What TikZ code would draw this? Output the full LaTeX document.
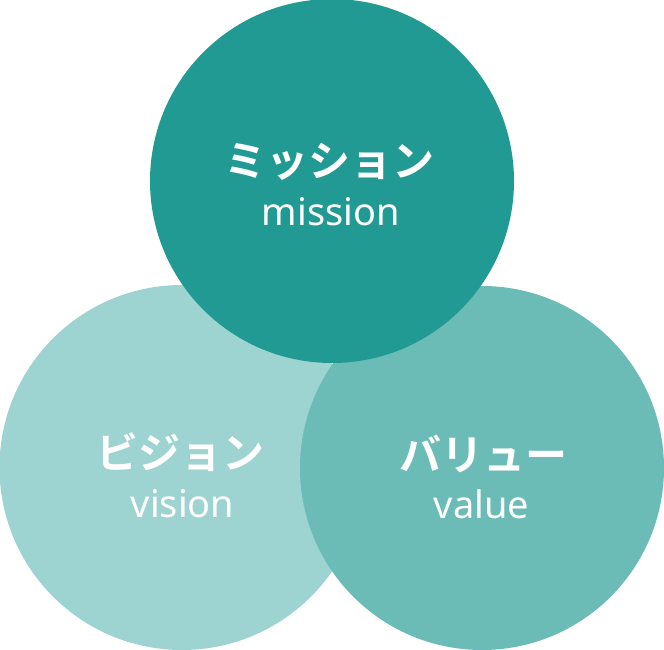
\documentclass[tikz,border=0pt]{standalone}
\usepackage{fontspec}
\setmainfont{Noto Sans}
\newfontfamily\jpfont{Noto Sans CJK JP}[BoldFont={* Bold}]
\definecolor{cTop}{HTML}{219A93}
\definecolor{cLeft}{HTML}{9DD3D0}
\definecolor{cRight}{HTML}{6BBBB6}
\tikzset{
  jp/.style={text=white, font=\jpfont\bfseries\fontsize{42}{42}\selectfont, inner sep=0pt},
  en/.style={text=white, font=\fontsize{38}{38}\selectfont, inner sep=0pt, anchor=base},
}
\begin{document}
\begin{tikzpicture}[x=1pt,y=-1pt]
\useasboundingbox (0,0) rectangle (664,650);
\fill[cLeft] (182,467.5) circle (182.5);
\fill[cRight] (482,468) circle (182);
\fill[cTop] (332,181) circle (182);
\node[jp] (mj) at (329.5,162) {ミッション};
\node[en] (me) at (331,225) {mission};
\node[jp] (vj) at (180,452) {ビジョン};
\node[en] (ve) at (182.5,517) {vision};
\node[jp] (rj) at (483.5,454) {バリュー};
\node[en] (re) at (481.5,518) {value};
\end{tikzpicture}
\end{document}
